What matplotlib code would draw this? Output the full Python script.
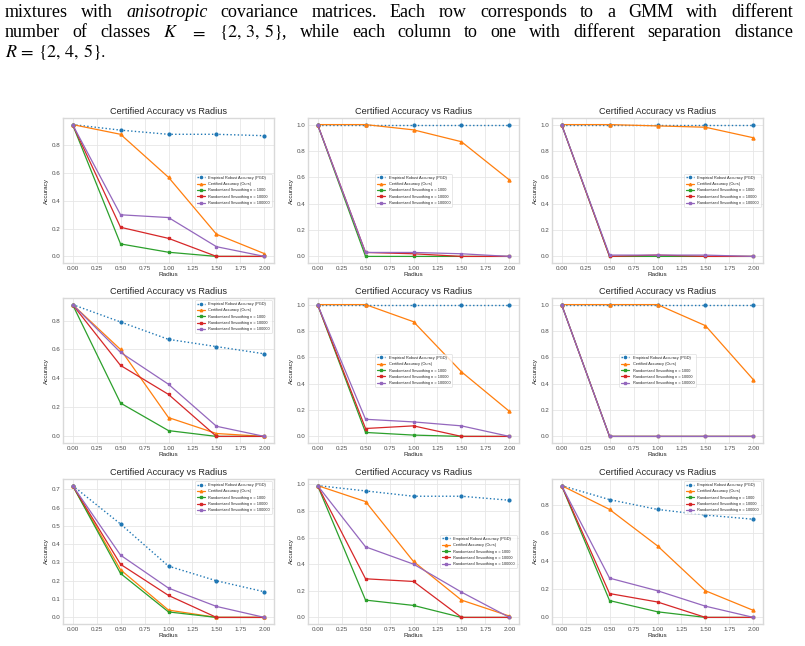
import matplotlib
matplotlib.use("Agg")
import matplotlib.pyplot as plt

# x axis shared by every panel
radius = [0.0, 0.5, 1.0, 1.5, 2.0]

# rows: K = 2, 3, 5 classes ; columns: R = 2, 4, 5 separation
pgd = [
    [[0.95, 0.91, 0.88, 0.88, 0.87], [1.0, 1.0, 1.0, 1.0, 1.0], [1.0, 1.0, 1.0, 1.0, 1.0]],
    [[0.91, 0.79, 0.67, 0.62, 0.57], [1.0, 1.0, 1.0, 1.0, 1.0], [1.0, 1.0, 1.0, 1.0, 1.0]],
    [[0.72, 0.51, 0.28, 0.20, 0.14], [0.99, 0.95, 0.91, 0.91, 0.88], [0.94, 0.84, 0.77, 0.73, 0.70]],
]
ours = [
    [[0.95, 0.88, 0.57, 0.16, 0.02], [1.0, 1.0, 0.96, 0.87, 0.58], [1.0, 1.0, 0.99, 0.98, 0.90]],
    [[0.91, 0.60, 0.13, 0.02, 0.0], [1.0, 1.0, 0.87, 0.49, 0.19], [1.0, 1.0, 1.0, 0.84, 0.43]],
    [[0.72, 0.26, 0.04, 0.0, 0.0], [0.99, 0.87, 0.42, 0.13, 0.01], [0.94, 0.77, 0.51, 0.19, 0.05]],
]
rs_1000 = [
    [[0.95, 0.09, 0.03, 0.0, 0.0], [1.0, 0.0, 0.0, 0.0, 0.0], [1.0, 0.0, 0.0, 0.0, 0.0]],
    [[0.91, 0.23, 0.04, 0.0, 0.0], [1.0, 0.03, 0.01, 0.0, 0.0], [1.0, 0.0, 0.0, 0.0, 0.0]],
    [[0.72, 0.24, 0.03, 0.0, 0.0], [0.99, 0.13, 0.09, 0.0, 0.0], [0.94, 0.12, 0.04, 0.0, 0.0]],
]
rs_10000 = [
    [[0.95, 0.21, 0.13, 0.0, 0.0], [1.0, 0.03, 0.02, 0.0, 0.0], [1.0, 0.0, 0.01, 0.0, 0.0]],
    [[0.91, 0.49, 0.29, 0.0, 0.0], [1.0, 0.06, 0.08, 0.0, 0.0], [1.0, 0.0, 0.0, 0.0, 0.0]],
    [[0.72, 0.29, 0.12, 0.0, 0.0], [0.99, 0.29, 0.27, 0.0, 0.0], [0.94, 0.17, 0.11, 0.0, 0.0]],
]
rs_100000 = [
    [[0.95, 0.30, 0.28, 0.07, 0.0], [1.0, 0.03, 0.03, 0.02, 0.0], [1.0, 0.01, 0.01, 0.01, 0.0]],
    [[0.91, 0.58, 0.36, 0.07, 0.0], [1.0, 0.13, 0.11, 0.08, 0.0], [1.0, 0.0, 0.0, 0.0, 0.0]],
    [[0.72, 0.34, 0.16, 0.06, 0.0], [0.99, 0.53, 0.40, 0.19, 0.0], [0.94, 0.28, 0.19, 0.08, 0.0]],
]

legend_loc = [
    ["center right", "center", "center right"],
    ["upper right", "center", "center"],
    ["upper right", "center right", "upper right"],
]

caption = [
    (["mixtures", "with", ("anisotropic", "italic"), "covariance", "matrices.", "Each", "row",
      "corresponds", "to", "a", "GMM", "with", "different"], True),
    (["number", "of", "classes", "$K$", "$=$", r"$\{2,\,3,\,5\}$,", "while", "each", "column", "to",
      "one", "with", "different", "separation", "distance"], True),
    ([r"$R\,=\,\{2,\,4,\,5\}.$"], False),
]

plt.style.use("seaborn-v0_8-whitegrid")
plt.rcParams["mathtext.fontset"] = "stix"

W, H = 805, 646
fig = plt.figure(figsize=(W / 100, H / 100), dpi=100)

# caption text above the grid, justified like the paper
renderer = fig.canvas.get_renderer()
size = 13
baselines = [17, 37, 57]
for (words, justify), base in zip(caption, baselines):
    texts = []
    for w in words:
        style = "normal"
        if isinstance(w, tuple):
            w, style = w
        t = fig.text(0, 1 - base / H, w, fontsize=size, family="Liberation Serif",
                     style=style, va="baseline", ha="left", color="black")
        texts.append(t)
    widths = [t.get_window_extent(renderer).width for t in texts]
    left, right = 5, 793
    if justify and len(texts) > 1:
        gap = (right - left - sum(widths)) / (len(texts) - 1)
    else:
        gap = 0.25 * size
    x = left
    for t, w in zip(texts, widths):
        t.set_x(x / W)
        x += w + gap

col_left = [63, 308, 552]
row_top = [118, 298, 479]
ax_w, ax_h = 211, 145

for i in range(3):
    for j in range(3):
        ax = fig.add_axes([col_left[j] / W, 1 - (row_top[i] + ax_h) / H, ax_w / W, ax_h / H])
        ax.plot(radius, pgd[i][j], ":o", color="C0", lw=1, ms=2,
                label="Empirical Robust Accuracy (PGD)")
        ax.plot(radius, ours[i][j], "-^", color="C1", lw=0.9, ms=2.2,
                label="Certified Accuracy (Ours)")
        ax.plot(radius, rs_1000[i][j], "-s", color="C2", lw=0.9, ms=1.8,
                label="Randomized Smoothing n = 1000")
        ax.plot(radius, rs_10000[i][j], "-s", color="C3", lw=0.9, ms=1.8,
                label="Randomized Smoothing n = 10000")
        ax.plot(radius, rs_100000[i][j], "-s", color="C4", lw=0.9, ms=1.8,
                label="Randomized Smoothing n = 100000")
        ax.set_title("Certified Accuracy vs Radius", fontsize=6.6, pad=3)
        ax.set_xlabel("Radius", fontsize=4.6, labelpad=1)
        ax.set_ylabel("Accuracy", fontsize=4.6, labelpad=2)
        ax.set_xticks([0, 0.25, 0.5, 0.75, 1.0, 1.25, 1.5, 1.75, 2.0])
        ax.tick_params(labelsize=4.5, pad=2, labelcolor="0.3")
        ax.grid(True, color="0.9", lw=0.6)
        for s in ax.spines.values():
            s.set_edgecolor("0.85")
            s.set_linewidth(1.0)
        leg = ax.legend(loc=legend_loc[i][j], fontsize=2.8, frameon=True, markerscale=0.8,
                        handlelength=2.2, borderpad=0.5, labelspacing=0.6)
        leg.get_frame().set_linewidth(0.4)

fig.savefig("out.png", dpi=100)
